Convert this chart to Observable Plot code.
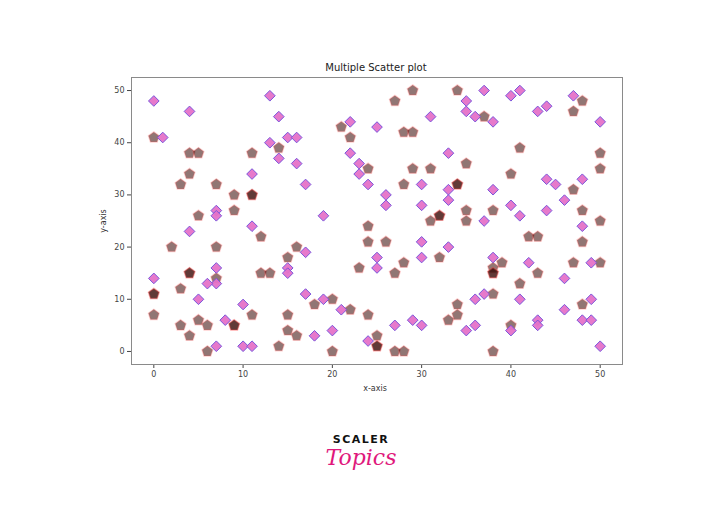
<!DOCTYPE html>
<html><head><meta charset="utf-8">
<script src="https://cdn.jsdelivr.net/npm/d3@7"></script>
<script src="https://cdn.jsdelivr.net/npm/@observablehq/plot@0.6"></script>
<style>body{margin:0;background:#fff} #chart svg{display:block}</style>
</head><body><div id="chart"></div>
<script>
// Series 1: pentagons (duplicates appear as darker marks)
const pentX = [0,4,5,11,4,3,7,9,11,11,5,9,12,2,7,16,15,12,13,4,4,0,0,3,0,3,5,6,4,6,9,9,11,15,15,16,14,7,14,
  24,24,26,23,28,27,32,18,20,22,24,33,34,34,20,25,25,25,27,28,
  21,22,24,27,29,34,28,29,29,31,28,34,34,31,32,32,
  37,48,47,41,50,50,35,40,47,35,35,38,48,50,
  42,43,48,39,38,38,38,43,47,50,41,38,48,40,38];
const pentY = [41,38,38,38,34,32,32,30,30,30,26,27,22,20,20,20,18,15,15,15,15,11,11,12,7,5,6,5,3,0,5,5,7,7,4,3,1,14,39,
  24,21,21,16,17,15,18,9,10,8,7,6,7,9,0,3,1,1,0,0,
  43,41,35,48,50,50,42,42,35,35,32,32,32,25,26,26,
  45,48,46,39,38,35,36,34,31,27,25,27,27,25,
  22,22,21,17,16,15,15,15,17,17,13,11,9,5,0];
// Series 2: diamonds
const diamX = [0,0,1,4,4,5,7,7,7,7,6,8,10,7,10,11,11,13,14,13,15,16,14,16,11,15,15,17,17,
  19,30,33,17,25,25,30,19,21,27,29,30,18,20,24,
  22,22,23,23,24,25,31,33,30,33,33,26,26,30,
  37,35,40,41,35,36,38,43,44,47,50,44,45,48,38,46,40,41,44,37,48,
  38,42,49,46,36,37,41,49,46,48,49,35,36,40,43,43,50];
const diamY = [48,14,41,46,23,10,27,26,16,13,13,6,9,1,1,1,24,49,45,40,41,41,37,36,34,16,15,11,32,
  26,21,20,19,18,16,18,10,8,5,6,5,3,4,2,
  44,38,36,34,32,43,45,38,32,31,29,30,28,28,
  50,48,49,50,46,45,44,46,47,49,44,33,32,33,31,29,28,26,27,25,24,
  18,17,17,14,10,11,10,10,8,6,6,4,5,4,6,5,1];
const xTicks = [0,10,20,30,40,50];
const yTicks = [0,10,20,30,40,50];

const pent = pentX.map((x,i)=>({x, y: pentY[i]}));
const diam = diamX.map((x,i)=>({x, y: diamY[i]}));

const pentagon = {draw(ctx, size){
  const r = Math.sqrt(size/Math.PI);
  for (let i=0;i<5;i++){
    const a = -Math.PI/2 + i*2*Math.PI/5;
    const px = r*Math.cos(a), py = r*Math.sin(a);
    if (i) ctx.lineTo(px,py); else ctx.moveTo(px,py);
  }
  ctx.closePath();
}};

const chart = Plot.plot({
  width: 720, height: 524,
  marginLeft: 131, marginRight: 98, marginTop: 77, marginBottom: 160,
  style: {fontFamily: "DejaVu Sans", fontSize: "8px", color: "#444", background: "#fff"},
  x: {domain: [-2.5, 52.5], ticks: xTicks, tickSize: 4, tickPadding: 3, label: null},
  y: {domain: [-2.5, 52.5], ticks: yTicks, tickSize: 4, tickPadding: 3, label: null},
  marks: [
    Plot.frame({stroke: "#8a8a8a", strokeWidth: 1}),
    Plot.dot(pent, {x: "x", y: "y", symbol: pentagon, r: 5.6,
      fill: "#3a0a08", fillOpacity: 0.56, stroke: "#ff5a5a", strokeOpacity: 0.28, strokeWidth: 1.5}),
    Plot.dot(diam, {x: "x", y: "y", symbol: "diamond2", r: 4.8,
      fill: "#e572c8", fillOpacity: 0.95, stroke: "#7a55dc", strokeWidth: 1.0})
  ]
});
document.getElementById("chart").appendChild(chart);

const svg = d3.select(chart);
svg.append("text").attr("x", 376).attr("y", 71).attr("text-anchor", "middle")
  .attr("font-family", "DejaVu Sans").attr("font-size", 10).attr("fill", "#222")
  .text("Multiple Scatter plot");
svg.append("text").attr("x", 375).attr("y", 391).attr("text-anchor", "middle")
  .attr("font-family", "DejaVu Sans").attr("font-size", 8).attr("fill", "#333")
  .text("x-axis");
svg.append("text").attr("transform", "translate(106,221) rotate(-90)").attr("text-anchor", "middle")
  .attr("font-family", "DejaVu Sans").attr("font-size", 8).attr("fill", "#333")
  .text("y-axis");
svg.append("text").attr("x", 361).attr("y", 443).attr("text-anchor", "middle")
  .attr("font-family", "DejaVu Sans").attr("font-weight", "bold").attr("font-size", 11)
  .attr("letter-spacing", 1.5).attr("fill", "#111").text("SCALER");
svg.append("text").attr("x", 361).attr("y", 465).attr("text-anchor", "middle")
  .attr("font-family", "DejaVu Serif").attr("font-style", "italic").attr("font-size", 22)
  .attr("fill", "#e0187c").text("Topics");
</script>
</body></html>
